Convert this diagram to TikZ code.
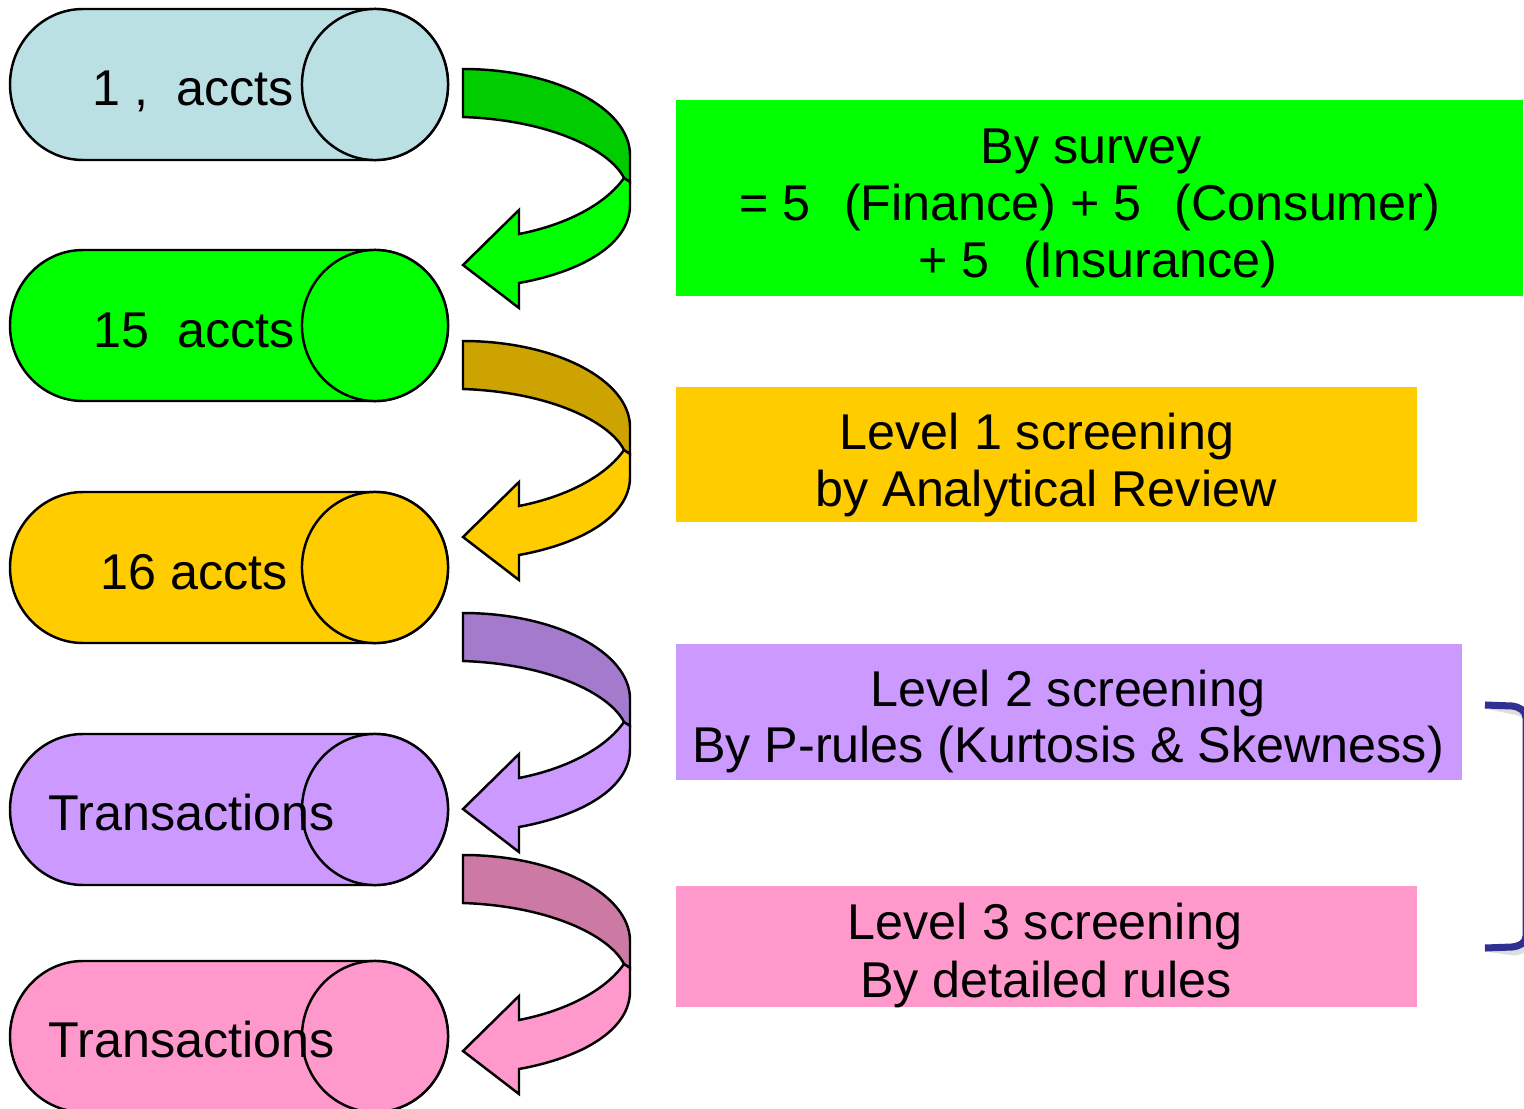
\documentclass[tikz,border=0pt]{standalone}
\usepackage{fontspec}
\setmainfont{Liberation Sans}
\definecolor{drumblue}{HTML}{BAE0E3}
\definecolor{lgreen}{HTML}{00FF00}
\definecolor{dgreen}{HTML}{00CC00}
\definecolor{lgold}{HTML}{FFCC00}
\definecolor{dgold}{HTML}{CCA300}
\definecolor{lviolet}{HTML}{CC99FF}
\definecolor{dviolet}{HTML}{A37ACC}
\definecolor{lpink}{HTML}{FF99CC}
\definecolor{dpink}{HTML}{CC7AA3}
\definecolor{navy}{HTML}{2E3192}

% horizontal drum: #1 = top edge, #2 = fill colour
\newcommand\drum[2]{%
  \filldraw[fill=#2, line width=0.7pt]
    (375,#1) -- (83,#1)
    .. controls (42.7,#1) and (10,#1+33.8) .. (10,#1+75.5)
    .. controls (10,#1+117.2) and (42.7,#1+151) .. (83,#1+151)
    -- (375,#1+151)
    .. controls (415.3,#1+151) and (448,#1+117.2) .. (448,#1+75.5)
    .. controls (448,#1+33.8) and (415.3,#1) .. (375,#1) -- cycle;
  \filldraw[fill=#2, line width=0.7pt] (375,#1+75.5) ellipse [x radius=0.73cm, y radius=0.755cm];
}

% bent ribbon arrow: #1 = vertical offset, #2 = back colour, #3 = front colour
\newcommand\bentarrow[3]{%
  \begin{scope}[shift={(0,#1)}]
    \filldraw[fill=#2, line width=0.7pt]
      (463,69) .. controls (555,69) and (630,108) .. (630,155)
      -- (630,182) -- (624,178)
      .. controls (610,150) and (550,120) .. (463,117) -- cycle;
    \filldraw[fill=#3, line width=0.7pt, line join=miter]
      (624,178) -- (630,182) -- (630,205)
      .. controls (630,245) and (580,272) .. (519,283)
      -- (519,308) -- (463,265) -- (519,210) -- (519,234)
      .. controls (565,225) and (605,205) .. (624,178) -- cycle;
  \end{scope}
}

\tikzset{
  lbl/.style={anchor=base, inner sep=0pt, font=\fontsize{14.3}{16}\selectfont},
  box/.style={rectangle, draw=none, inner sep=0pt, anchor=north west},
  bracketline/.style={line width=2pt, line cap=butt},
}

\begin{document}
\begin{tikzpicture}[x=0.01cm, y=-0.01cm]
\useasboundingbox (0,0) rectangle (1524,1109);
\clip (0,0) rectangle (1524,1109);
\fill[white] (0,0) rectangle (1524,1109);

% drums
\drum{9}{drumblue}
\drum{250}{lgreen}
\drum{492}{lgold}
\drum{734}{lviolet}
\drum{961}{lpink}
\node[lbl] (d1) at (193,105) {1 ,\ \ accts};
\node[lbl] (d2) at (194,347) {15\ \ accts};
\node[lbl] (d3) at (194,589) {16 accts};
\node[lbl] (d4) at (192,830) {Transactions};
\node[lbl] (d5) at (192,1057) {Transactions};

% arrows between the drums
\bentarrow{0}{dgreen}{lgreen}
\bentarrow{272}{dgold}{lgold}
\bentarrow{544}{dviolet}{lviolet}
\bentarrow{786}{dpink}{lpink}

% description boxes
\node[box, fill=lgreen, minimum width=8.47cm, minimum height=1.96cm] (b1) at (675,99) {};
\node[box, fill=lgold, minimum width=7.41cm, minimum height=1.35cm] (b2) at (675,386) {};
\node[box, fill=lviolet, minimum width=7.86cm, minimum height=1.36cm] (b3) at (675,643) {};
\node[box, fill=lpink, minimum width=7.41cm, minimum height=1.21cm] (b4) at (675,885) {};

\node[lbl] (s1) at (1091,163) {By survey};
\node[lbl] (s2) at (1090,220) {= 5\ \ \kern1.5pt(Finance) + 5\ \ \kern1.5pt(Consumer)};
\node[lbl] (s3) at (1098,277) {+ 5\ \ \kern1.5pt(Insurance)};
\node[lbl] (l1a) at (1037,449) {Level 1 screening};
\node[lbl] (l1b) at (1046,506) {by Analytical Review};
\node[lbl] (l2a) at (1068,706) {Level 2 screening};
\node[lbl] (l2b) at (1068,762) {By P-rules (Kurtosis \& Skewness)};
\node[lbl] (l3a) at (1045,939) {Level 3 screening};
\node[lbl] (l3b) at (1046,997) {By detailed rules};

% bracket at the right edge
\coordinate (bt) at (1485,705);
\coordinate (bb) at (1485,948);
\draw[black!25, bracketline, opacity=0.5, shift={(2,5)}]
  (bt) -- (1512,706) .. controls (1520,707) and (1526,711) .. (1526,718)
  -- (1526,936) .. controls (1526,943) and (1520,946) .. (1512,947) -- (bb);
\draw[navy, bracketline]
  (bt) -- (1512,706) .. controls (1520,707) and (1526,711) .. (1526,718)
  -- (1526,936) .. controls (1526,943) and (1520,946) .. (1512,947) -- (bb);
\end{tikzpicture}
\end{document}
